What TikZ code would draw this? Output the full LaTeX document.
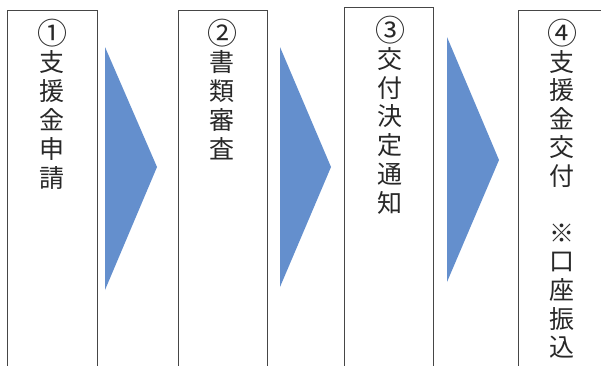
\documentclass[tikz,border=0pt]{standalone}
\usepackage{fontspec}
\newfontfamily\cjk{Noto Sans CJK JP}
\definecolor{arrowblue}{RGB}{100,143,205}
\definecolor{boxline}{RGB}{70,70,70}
\definecolor{txt}{RGB}{40,40,40}
\begin{document}
\begin{tikzpicture}[x=1pt,y=-1pt,
  stepbox/.style={draw=boxline,line width=0.9pt},
  chevron/.style={fill=arrowblue,draw=none},
  glyph/.style={font=\cjk\fontsize{25}{25}\selectfont,text=txt,inner sep=0pt,anchor=center},
  numglyph/.style={glyph,font=\cjk\fontsize{30}{30}\selectfont}]
\useasboundingbox (0,0) rectangle (601,365);
\clip (0,0) rectangle (601,365);
\fill[white] (0,0) rectangle (601,365);
% boxes
\draw[stepbox] (7,10) rectangle (97,380);
\draw[stepbox] (178,10) rectangle (267,380);
\draw[stepbox] (344,7) rectangle (433,380);
\draw[stepbox] (518,10) rectangle (620,380);
% chevrons
\fill[chevron] (105,47) -- (157,167) -- (105,290) -- cycle;
\fill[chevron] (280,47) -- (331,167) -- (280,287) -- cycle;
\fill[chevron] (447,37) -- (499,160) -- (447,282) -- cycle;
% circled numbers
\node[numglyph] (na) at (52,33) {①};
\node[numglyph] (nb) at (222,33) {②};
\node[numglyph] (nc) at (390,30) {③};
\node[numglyph] (nd) at (562,33) {④};
% texts
\foreach \c [count=\i] in {支,援,金,申,請}
  \node[glyph] (ta\i) at (52,{33+29*\i}) {\c};
\foreach \c [count=\i] in {書,類,審,査}
  \node[glyph] (tb\i) at (222,{33+29*\i}) {\c};
\foreach \c [count=\i] in {交,付,決,定,通,知}
  \node[glyph] (tc\i) at (390,{30+28.8*\i}) {\c};
\foreach \c [count=\i] in {支,援,金,交,付,{},※,口,座,振,込}
  \node[glyph] (td\i) at (562,{33+28.6*\i}) {\c};
\end{tikzpicture}
\end{document}
